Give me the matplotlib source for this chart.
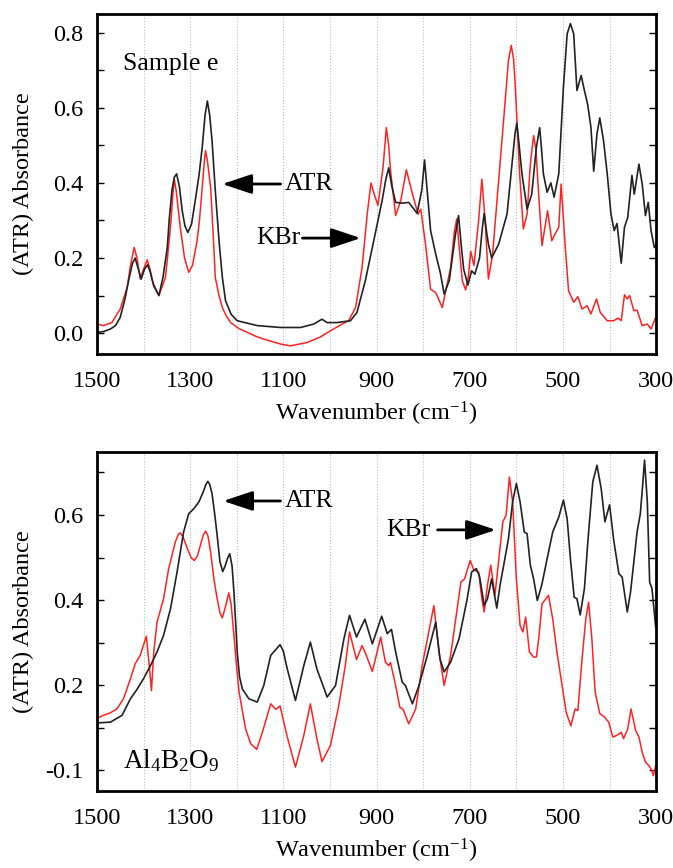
import numpy as np
import matplotlib
matplotlib.use("Agg")
import matplotlib.pyplot as plt
from matplotlib.ticker import FixedLocator, MultipleLocator

plt.rcParams['font.family'] = ['Liberation Serif', 'DejaVu Serif']
plt.rcParams['mathtext.fontset'] = 'custom'
plt.rcParams['mathtext.rm'] = 'Liberation Serif'
plt.rcParams['mathtext.it'] = 'Liberation Serif:italic'

# ---- top panel (Sample e) ----
top_atr_wn = [1500, 1486, 1471, 1460, 1450, 1440, 1432, 1424, 1418, 1411, 1405, 1398, 1391, 1385, 1378, 1367,
              1358, 1349, 1345, 1339, 1334, 1329, 1323, 1317, 1311, 1305, 1297, 1289, 1281, 1274, 1268, 1263,
              1258, 1253, 1246, 1238, 1231, 1224, 1212, 1199, 1156, 1106, 1063, 1035, 1017, 1006, 985,
              956, 942, 924, 906, 888, 880, 874, 867, 859, 845, 831, 813, 803, 797, 790, 784, 773, 763, 755,
              744, 731, 724, 718, 713, 704,
              696, 689, 679, 673, 669, 664, 660, 653, 638, 620, 610, 603, 599, 594, 588, 577, 567, 557, 550,
              546, 542, 534, 526, 519, 509, 499, 491, 484, 477, 470, 461, 454, 447, 440, 434, 427, 421, 413,
              405, 397, 390, 384, 375, 368, 361, 352, 347, 337, 330, 323, 317, 311, 304, 300]
top_atr_ab = [0.002, 0.004, 0.011, 0.02, 0.042, 0.09, 0.14, 0.185, 0.20, 0.17, 0.144, 0.17, 0.182, 0.16, 0.125,
              0.10, 0.15, 0.228, 0.30, 0.38, 0.415, 0.424, 0.39, 0.326, 0.285, 0.268, 0.29, 0.353, 0.42, 0.495,
              0.58, 0.618, 0.58, 0.513, 0.38, 0.246, 0.15, 0.086, 0.05, 0.033, 0.02, 0.015, 0.015, 0.024, 0.037,
              0.028, 0.028, 0.033, 0.055, 0.14, 0.246, 0.353, 0.41, 0.44, 0.39, 0.348, 0.346, 0.348, 0.319, 0.38,
              0.461, 0.36, 0.273, 0.21, 0.16, 0.104, 0.14, 0.26, 0.313, 0.23, 0.17, 0.128,
              0.166, 0.157, 0.20, 0.28, 0.319, 0.27, 0.237, 0.20, 0.237, 0.317, 0.442, 0.53, 0.559, 0.5, 0.424,
              0.33, 0.37, 0.495, 0.547, 0.49, 0.424, 0.375, 0.40, 0.362, 0.424, 0.655, 0.797, 0.824, 0.797,
              0.646, 0.686, 0.646, 0.609, 0.548, 0.431, 0.531, 0.573, 0.513, 0.424, 0.317, 0.273, 0.292, 0.186,
              0.282, 0.308, 0.42, 0.37, 0.45, 0.397, 0.313, 0.348, 0.273, 0.228, 0.235]

top_kbr_wn = [1500, 1486, 1468, 1450, 1435, 1428, 1420, 1414, 1407, 1400, 1392, 1386, 1380, 1367, 1353, 1347,
              1341, 1337, 1334, 1330, 1321, 1312, 1303, 1295, 1285, 1280, 1274, 1270, 1267, 1263, 1256, 1250,
              1246, 1238, 1231, 1222, 1213, 1195, 1177, 1160, 1142, 1106, 1085, 1049, 1020, 999, 974,
              960, 945, 931, 920, 912, 905, 897, 886, 879, 874, 870, 859, 848, 836, 823, 811, 805, 795, 784, 773,
              759, 741, 733, 728, 722, 716, 709, 703, 698, 691, 681, 674, 667, 660, 651, 638, 628, 617, 611, 606,
              603, 593, 585, 577, 570, 563, 558, 554, 545, 533, 524, 517, 509, 504, 495, 488, 477, 468, 459, 448,
              440, 428, 420, 405, 391, 382, 375, 368, 362, 357, 348, 341, 330, 319, 311, 301]
top_kbr_ab = [0.024, 0.02, 0.028, 0.064, 0.122, 0.18, 0.228, 0.2, 0.144, 0.17, 0.195, 0.17, 0.135, 0.10, 0.148,
              0.22, 0.30, 0.37, 0.41, 0.38, 0.28, 0.2, 0.162, 0.18, 0.246, 0.30, 0.388, 0.45, 0.486, 0.46, 0.388,
              0.25, 0.148, 0.1, 0.068, 0.045, 0.028, 0.012, 0.002, -0.008, -0.016, -0.029, -0.034, -0.025, -0.01,
              0.006, 0.024, 0.033, 0.068, 0.175, 0.317, 0.40, 0.37, 0.34, 0.442, 0.547, 0.5, 0.433, 0.313, 0.353,
              0.435, 0.371, 0.317, 0.33, 0.237, 0.117, 0.108, 0.068, 0.175, 0.27, 0.304, 0.22, 0.14, 0.115, 0.15,
              0.218, 0.18, 0.30, 0.41, 0.30, 0.144, 0.21, 0.406, 0.557, 0.726, 0.766, 0.73, 0.673, 0.424, 0.277,
              0.317, 0.45, 0.526, 0.49, 0.406, 0.233, 0.326, 0.246, 0.264, 0.282, 0.397, 0.228, 0.113, 0.082,
              0.097, 0.064, 0.073, 0.051, 0.091, 0.055, 0.033, 0.033, 0.04, 0.033, 0.102, 0.091, 0.10, 0.06,
              0.061, 0.02, 0.024, 0.011, 0.042]

# ---- bottom panel (Al4B2O9) ----
bot_atr_wn = [1500, 1471, 1446, 1428, 1414, 1400, 1385, 1371, 1357, 1342, 1328, 1314, 1303, 1292, 1281,
              1272, 1266, 1262, 1258, 1253, 1247, 1242, 1236, 1230, 1225, 1220, 1215, 1210, 1206, 1202, 1199,
              1194, 1188, 1174, 1156, 1142, 1127, 1115, 1107, 1100,
              1092, 1074, 1056, 1042, 1028, 1006, 988, 970, 958, 943, 925, 909, 889, 877, 868, 859, 845,
              838, 823, 809, 791, 773, 764, 755, 741, 723, 706, 696, 686, 679, 669, 662, 653, 642, 635,
              626, 617, 608, 600, 592, 583, 577, 570, 563, 555, 545, 534, 522, 509, 499, 491, 484, 476,
              470, 463, 454, 445, 436, 427, 418, 410, 400, 391, 380, 373, 362, 355, 348, 341, 334, 329,
              325, 319, 314, 309, 301]
bot_atr_ab = [0.111, 0.113, 0.129, 0.168, 0.19, 0.215, 0.246, 0.278, 0.317, 0.38, 0.466, 0.56, 0.603, 0.615, 0.631,
              0.654, 0.672, 0.679, 0.672, 0.65, 0.6, 0.552, 0.49, 0.467, 0.48, 0.497, 0.509, 0.48, 0.419, 0.34,
              0.278, 0.22, 0.191, 0.168, 0.16, 0.199, 0.27, 0.285, 0.295, 0.28,
              0.24, 0.164, 0.246, 0.301, 0.238, 0.172, 0.199, 0.309, 0.364, 0.313, 0.355, 0.297, 0.362, 0.321,
              0.331, 0.278, 0.207, 0.199, 0.156, 0.199, 0.27, 0.348, 0.262, 0.231, 0.254, 0.309, 0.40, 0.466,
              0.474, 0.456, 0.387, 0.403, 0.45, 0.381, 0.435, 0.489, 0.544, 0.631, 0.674, 0.631, 0.56, 0.556,
              0.482, 0.45, 0.399, 0.438, 0.497, 0.56, 0.595, 0.635, 0.591, 0.497, 0.407, 0.403, 0.365, 0.427,
              0.56, 0.678, 0.717, 0.662, 0.584, 0.624, 0.54, 0.462, 0.454, 0.372, 0.419, 0.489, 0.56, 0.603,
              0.67, 0.729, 0.631, 0.442, 0.427, 0.336]

bot_kbr_wn = [1500, 1486, 1471, 1457, 1443, 1428, 1418, 1407, 1394, 1387, 1383, 1378, 1371, 1357, 1346,
              1340, 1332, 1325, 1321, 1315, 1306, 1298, 1291, 1284, 1278, 1272, 1267, 1262, 1256, 1249, 1242,
              1236, 1231, 1224, 1217, 1212, 1206, 1200, 1195, 1181, 1170, 1157,
              1145, 1127, 1116, 1107, 1092, 1074, 1056, 1042, 1028, 1017, 999, 981, 967, 958, 943, 931,
              922, 909, 891, 881, 874, 870, 859, 850, 843, 831, 816, 802, 784, 777, 766, 755, 741, 727,
              719, 711, 699, 691, 681, 674, 669, 662, 655, 646, 636, 629, 622, 615, 608, 600, 592, 586,
              580, 572, 563, 557, 552, 545, 531, 522, 513, 502, 493, 483, 474, 468, 459, 451, 445, 438,
              431, 421, 411, 402, 393, 384, 375, 370, 361, 354, 344, 337, 330, 323, 316, 311, 306, 301]
bot_kbr_ab = [0.122, 0.129, 0.135, 0.144, 0.168, 0.215, 0.25, 0.27, 0.315, 0.238, 0.187, 0.278, 0.348, 0.403, 0.474,
              0.5, 0.536, 0.555, 0.558, 0.548, 0.521, 0.5, 0.493, 0.505, 0.529, 0.552, 0.562, 0.552, 0.513, 0.45,
              0.403, 0.37, 0.358, 0.385, 0.417, 0.39, 0.317, 0.24, 0.184, 0.097, 0.062, 0.049,
              0.089, 0.156, 0.143, 0.151, 0.08, 0.007, 0.082, 0.156, 0.074, 0.02, 0.058, 0.152, 0.246, 0.325, 0.26,
              0.293, 0.27, 0.232, 0.313, 0.254, 0.246, 0.253, 0.199, 0.148, 0.143, 0.109, 0.144, 0.246, 0.348, 0.387,
              0.278, 0.199, 0.27, 0.38, 0.442, 0.45, 0.493, 0.47, 0.466, 0.403, 0.372, 0.435, 0.482, 0.411, 0.513,
              0.584, 0.6, 0.689, 0.631, 0.45, 0.34, 0.325, 0.36, 0.278, 0.266, 0.266, 0.309, 0.391, 0.411, 0.356,
              0.278, 0.199, 0.136, 0.104, 0.144, 0.14, 0.262, 0.356, 0.395, 0.309, 0.184, 0.133, 0.125, 0.113, 0.078,
              0.082, 0.089, 0.074, 0.097, 0.144, 0.093, 0.078, 0.042, 0.019, 0.011, 0.003, -0.013, 0.011]

x_labels = ['1500', '1300', '1100', '900', '700', '500', '300']
x_label_pos = [1500, 1300, 1100, 900, 700, 500, 300]

RED = '#ff2222'
BLK = '#222222'
FS = 17.5
FS_NOTE = 18.5

fig = plt.figure(figsize=(6.73, 8.68), dpi=100)
ax1 = fig.add_axes([0.144, 0.592, 0.831, 0.392])
ax2 = fig.add_axes([0.144, 0.0887, 0.831, 0.3905])


def style(ax):
    ax.set_xlim(1500, 300)
    ax.xaxis.set_major_locator(FixedLocator(x_label_pos))
    ax.set_xticklabels(x_labels)
    ax.xaxis.set_minor_locator(MultipleLocator(100))
    ax.grid(axis='x', which='both', ls=':', color='#bbbbbb', lw=0.8)
    ax.tick_params(axis='x', which='both', direction='in', length=0, pad=12, labelsize=FS)
    ax.tick_params(axis='y', which='both', direction='in', length=5, width=1,
                   right=True, pad=10, labelsize=FS)
    for s in ax.spines.values():
        s.set_linewidth(2)
    ax.set_xlabel('Wavenumber (cm$^{-1}$)', fontsize=FS, labelpad=6)
    ax.set_ylabel('(ATR) Absorbance', fontsize=FS)
    ax.yaxis.set_label_coords(-0.113, 0.5)


def arrow(ax, tip, tail, y):
    ax.annotate('', xy=(tip, y), xytext=(tail, y),
                arrowprops=dict(arrowstyle='-|>,head_length=0.9,head_width=0.3',
                                color='k', lw=2, mutation_scale=20,
                                shrinkA=0, shrinkB=0))


# top
ax1.plot(top_kbr_wn, top_kbr_ab, color=RED, lw=1.1)
ax1.plot(top_atr_wn, top_atr_ab, color=BLK, lw=1.2)
style(ax1)
ax1.set_ylim(-0.056, 0.85)
ax1.yaxis.set_major_locator(FixedLocator([0.0, 0.2, 0.4, 0.6, 0.8]))
ax1.set_yticklabels(['0.0', '0.2', '0.4', '0.6', '0.8'])
ax1.yaxis.set_minor_locator(MultipleLocator(0.1))
ax1.text(1444, 0.70, 'Sample e', fontsize=FS_NOTE, va='baseline')
arrow(ax1, 1231, 1106, 0.397)
ax1.text(1096, 0.397, 'ATR', fontsize=FS_NOTE, va='center')
arrow(ax1, 934, 1059, 0.253)
ax1.text(1063, 0.253, 'KBr', fontsize=FS_NOTE, va='center', ha='right')

# bottom
ax2.plot(bot_kbr_wn, bot_kbr_ab, color=RED, lw=1.1)
ax2.plot(bot_atr_wn, bot_atr_ab, color=BLK, lw=1.2)
style(ax2)
ax2.set_ylim(-0.049, 0.748)
ax2.yaxis.set_major_locator(FixedLocator([0.0, 0.2, 0.4, 0.6]))
ax2.set_yticklabels(['-0.1', '0.2', '0.4', '0.6'])
ax2.yaxis.set_minor_locator(MultipleLocator(0.1))
ax2.text(1444, 0.005, 'Al$_4$B$_2$O$_9$', fontsize=FS_NOTE + 1, va='baseline')
arrow(ax2, 1229, 1106, 0.633)
ax2.text(1096, 0.633, 'ATR', fontsize=FS_NOTE, va='center')
arrow(ax2, 644, 769, 0.565)
ax2.text(784, 0.565, 'KBr', fontsize=FS_NOTE, va='center', ha='right')

fig.savefig('out.png', dpi=100)
